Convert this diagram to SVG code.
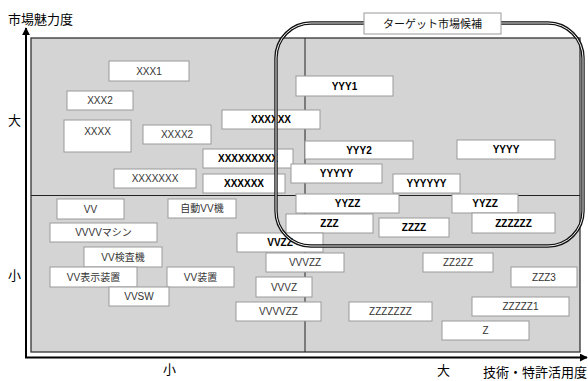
<svg xmlns="http://www.w3.org/2000/svg" width="588" height="381" viewBox="0 0 588 381">
<style>
.n rect{fill:#fff;stroke:#9a9a9a;stroke-width:1}
.n text{font-family:"Liberation Sans","Noto Sans CJK JP",sans-serif;font-size:10px;fill:#333;text-anchor:middle}
.b text{font-weight:bold;fill:#000}
.ax{font-family:"Liberation Sans","Noto Sans CJK JP",sans-serif;font-size:13px;fill:#000}
.div{stroke:#222;stroke-width:1}
</style>
<defs>
<marker id="ah" viewBox="0 0 10 10" refX="9" refY="5" markerWidth="8" markerHeight="8" markerUnits="userSpaceOnUse" orient="auto">
<path d="M0,0 L10,5 L0,10 Z" fill="#000"/>
</marker>
</defs>
<rect width="588" height="381" fill="#fff"/>
<g id="plot">
<rect x="31" y="38" width="549" height="314" fill="#d4d4d4" stroke="#333" stroke-width="1.3"/>
<line class="div" x1="305" y1="38" x2="305" y2="352"/>
<line class="div" x1="31" y1="195.5" x2="580" y2="195.5"/>
</g>
<g id="axes">
<line x1="26" y1="358" x2="26" y2="28" stroke="#000" stroke-width="2" marker-end="url(#ah)"/>
<line x1="25" y1="357.5" x2="587" y2="357.5" stroke="#000" stroke-width="2" marker-end="url(#ah)"/>
<text class="ax" x="8" y="24">市場魅力度</text>
<text class="ax" x="8" y="125">大</text>
<text class="ax" x="8" y="280">小</text>
<text class="ax" x="163" y="374">小</text>
<text class="ax" x="437" y="375">大</text>
<text class="ax" x="483" y="377">技術・特許活用度</text>
</g>
<g id="n1" class="n"><rect x="109" y="61" width="80" height="20"/><text x="149" y="74.5">XXX1</text></g>
<g id="n2" class="n"><rect x="67" y="91" width="66" height="19"/><text x="100" y="104">XXX2</text></g>
<g id="n3" class="n"><rect x="64" y="120" width="67" height="32"/><text x="97.5" y="135">XXXX</text></g>
<g id="n4" class="n"><rect x="143" y="125" width="68" height="19"/><text x="177" y="138">XXXX2</text></g>
<g id="n5" class="n"><rect x="114" y="169" width="82" height="19"/><text x="155" y="182">XXXXXXX</text></g>
<g id="n6" class="n b"><rect x="222" y="110" width="98" height="19"/><text x="271" y="123">XXXXXX</text></g>
<g id="n7" class="n b"><rect x="203" y="149" width="90" height="19"/><text x="248" y="162">XXXXXXXXX</text></g>
<g id="n8" class="n b"><rect x="203" y="174" width="82" height="19"/><text x="244" y="187">XXXXXX</text></g>
<g id="n9" class="n b"><rect x="296" y="76" width="97" height="20"/><text x="344.5" y="89.5">YYY1</text></g>
<g id="n10" class="n b"><rect x="305" y="141" width="108" height="18"/><text x="359" y="153.5">YYY2</text></g>
<g id="n11" class="n b"><rect x="457" y="140" width="98" height="19"/><text x="506" y="153">YYYY</text></g>
<g id="n12" class="n b"><rect x="291" y="164" width="91" height="19"/><text x="336.5" y="177">YYYYY</text></g>
<g id="n13" class="n b"><rect x="393" y="174" width="67" height="19"/><text x="426.5" y="187">YYYYYY</text></g>
<g id="n14" class="n b"><rect x="296" y="194" width="103" height="19"/><text x="347.5" y="207">YYZZ</text></g>
<g id="n15" class="n b"><rect x="452" y="194" width="66" height="19"/><text x="485" y="207">YYZZ</text></g>
<g id="n16" class="n b"><rect x="286" y="214" width="87" height="19"/><text x="329.5" y="227">ZZZ</text></g>
<g id="n17" class="n b"><rect x="379" y="218" width="70" height="19"/><text x="414" y="231">ZZZZ</text></g>
<g id="n18" class="n b"><rect x="472" y="213" width="83" height="20"/><text x="513.5" y="226.5">ZZZZZZ</text></g>
<g id="n19" class="n b"><rect x="237" y="233" width="86" height="19"/><text x="280" y="246">VVZZ</text></g>
<g id="n20" class="n"><rect x="57" y="199" width="67" height="20"/><text x="90.5" y="212.5">VV</text></g>
<g id="n21" class="n"><rect x="168" y="199" width="68" height="19"/><text x="202" y="212">自動VV機</text></g>
<g id="n22" class="n"><rect x="50" y="223" width="107" height="19"/><text x="103.5" y="236">VVVVマシン</text></g>
<g id="n23" class="n"><rect x="84" y="247" width="78" height="20"/><text x="123" y="260.5">VV検査機</text></g>
<g id="n24" class="n"><rect x="50" y="267" width="87" height="20"/><text x="93.5" y="280.5">VV表示装置</text></g>
<g id="n25" class="n"><rect x="167" y="267" width="67" height="20"/><text x="200.5" y="280.5">VV装置</text></g>
<g id="n26" class="n"><rect x="109" y="287" width="60" height="19"/><text x="139" y="300">VVSW</text></g>
<g id="n27" class="n"><rect x="266" y="253" width="78" height="19"/><text x="305" y="266">VVVZZ</text></g>
<g id="n28" class="n"><rect x="256" y="277" width="56" height="20"/><text x="284" y="290.5">VVVZ</text></g>
<g id="n29" class="n"><rect x="236" y="302" width="85" height="19"/><text x="278.5" y="315">VVVVZZ</text></g>
<g id="n30" class="n"><rect x="349" y="302" width="83" height="19"/><text x="390.5" y="315">ZZZZZZZ</text></g>
<g id="n31" class="n"><rect x="423" y="253" width="70" height="19"/><text x="458" y="266">ZZ2ZZ</text></g>
<g id="n32" class="n"><rect x="511" y="267" width="66" height="20"/><text x="544" y="280.5">ZZZ3</text></g>
<g id="n33" class="n"><rect x="472" y="297" width="97" height="19"/><text x="520.5" y="310">ZZZZZ1</text></g>
<g id="n34" class="n"><rect x="442" y="321" width="87" height="19"/><text x="485.5" y="334">Z</text></g>
<g id="target">
<rect x="276" y="23" width="307" height="223" rx="35" ry="35" fill="none" stroke="#111" stroke-width="3.4"/>
<rect x="276" y="23" width="307" height="223" rx="35" ry="35" fill="none" stroke="#f4f4f4" stroke-width="1"/>
</g>
<g id="target-label" class="n"><rect x="364" y="13" width="137" height="21"/><text x="432.5" y="27.5" style="font-size:11px;fill:#111">ターゲット市場候補</text></g>
</svg>
